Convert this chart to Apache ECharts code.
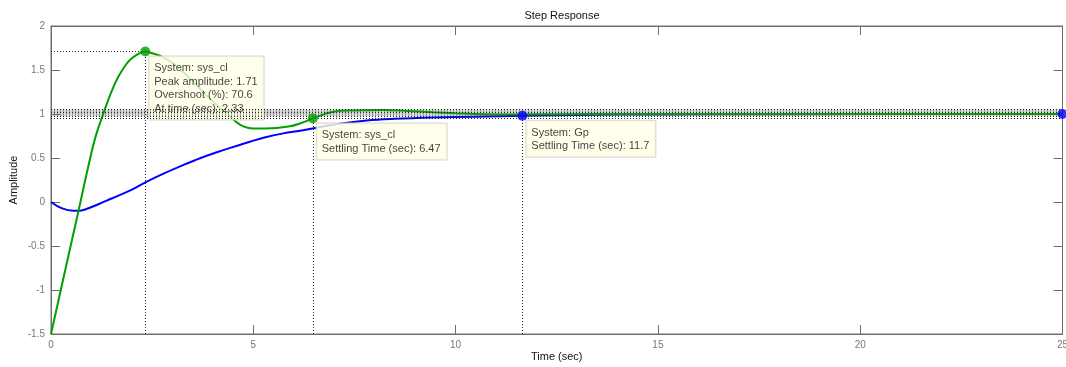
<!DOCTYPE html>
<html>
<head>
<meta charset="utf-8">
<script src="https://cdn.jsdelivr.net/npm/echarts@6/dist/echarts.min.js"></script>
<style>html,body{margin:0;padding:0;background:#fff}#c{width:1066px;height:367px}</style>
</head>
<body>
<div id="c"></div>
<script>
// sys_cl (green) step response
const sysClTime = [0, 0.3, 0.675, 0.92, 1.1, 1.29, 1.5, 1.66, 1.85, 1.99, 2.15, 2.33, 2.5, 2.7, 3.0, 3.4, 3.8, 4.1, 4.34, 4.67, 5.0, 5.3, 5.9, 6.2, 6.47, 6.98, 7.5, 8.2, 8.8, 9.45, 10.0, 10.7, 11.5, 12.5, 14, 25];
const sysClAmp  = [-1.5, -0.88, -0.11, 0.40, 0.74, 1.0, 1.26, 1.42, 1.56, 1.63, 1.68, 1.71, 1.69, 1.66, 1.58, 1.42, 1.23, 1.10, 1.01, 0.88, 0.835, 0.835, 0.86, 0.90, 0.95, 1.026, 1.04, 1.045, 1.035, 1.02, 1.008, 0.997, 0.995, 0.998, 1.0, 1.0];
// Gp (blue) step response
const gpTime = [0, 0.26, 0.55, 0.7, 0.84, 1.2, 1.5, 2.0, 2.32, 2.82, 3.27, 3.7, 4.1, 4.5, 4.92, 5.3, 5.74, 6.16, 6.53, 7.0, 7.8, 8.5, 9.44, 10.5, 11.65, 13, 15, 18, 25];
const gpAmp  = [0, -0.07, -0.10, -0.10, -0.085, -0.02, 0.04, 0.14, 0.22, 0.33, 0.42, 0.50, 0.565, 0.625, 0.685, 0.735, 0.78, 0.81, 0.84, 0.88, 0.925, 0.945, 0.96, 0.97, 0.98, 0.99, 0.995, 0.998, 1.0];
// data tips
const tipPoints = [
  {x: 2.33, y: 1.71, color: '#00a000', text: 'System: sys_cl\nPeak amplitude: 1.71\nOvershoot (%): 70.6\nAt time (sec): 2.33'},
  {x: 6.47, y: 0.95, color: '#00a000', text: 'System: sys_cl\nSettling Time (sec): 6.47'},
  {x: 11.65, y: 0.98, color: '#0000ff', text: 'System: Gp\nSettling Time (sec): 11.7'}
];
const endPoint = {x: 25, y: 1.0, color: '#0000ff'};
const settleLevels = [1.05, 1.02, 0.98, 0.95];
const xTicks = {min: 0, max: 25, interval: 5};
const yTicks = {min: -1.5, max: 2, interval: 0.5};

const zip = (a, b) => a.map((v, i) => [v, b[i]]);
const FONT = '"Liberation Sans", Arial, Helvetica, sans-serif';
const axisGray = '#6e6e6e';

const chart = echarts.init(document.getElementById('c'), null, {renderer: 'canvas'});
const baseX = {type: 'value', min: xTicks.min, max: xTicks.max, interval: xTicks.interval};
const baseY = {type: 'value', min: yTicks.min, max: yTicks.max, interval: yTicks.interval};

const dotted = {color: '#222', width: 1, type: [1, 2]};
const axLine = {show: true, onZero: false, lineStyle: {color: axisGray}};
const axTick = {show: true, inside: true, length: 9, lineStyle: {color: axisGray}};

chart.setOption({
  animation: false,
  title: {text: 'Step Response', left: 557, top: 5, textAlign: 'center',
    textStyle: {fontSize: 11, fontWeight: 'normal', color: '#111', fontFamily: FONT}},
  grid: {left: 51, right: 3.5, top: 26, bottom: 33, show: true, borderColor: axisGray, borderWidth: 1,
    containLabel: false, outerBoundsMode: 'none'},
  xAxis: [
    Object.assign({}, baseX, {position: 'bottom', name: 'Time (sec)', nameLocation: 'middle', nameGap: 17,
      nameMoveOverlap: false,
      nameTextStyle: {fontSize: 11, color: '#111', fontFamily: FONT},
      axisLine: axLine, axisTick: axTick,
      axisLabel: {margin: 6, fontSize: 10, color: '#777', fontFamily: FONT},
      splitLine: {show: false}}),
    Object.assign({}, baseX, {position: 'top',
      axisLine: axLine, axisTick: axTick,
      axisLabel: {show: false}, splitLine: {show: false}})
  ],
  yAxis: [
    Object.assign({}, baseY, {position: 'left', name: 'Amplitude', nameLocation: 'middle', nameGap: 32,
      nameMoveOverlap: false,
      nameTextStyle: {fontSize: 11, color: '#111', fontFamily: FONT},
      axisLine: axLine, axisTick: axTick,
      axisLabel: {margin: 6, fontSize: 10, color: '#777', fontFamily: FONT},
      splitLine: {show: false}}),
    Object.assign({}, baseY, {position: 'right',
      axisLine: axLine, axisTick: axTick,
      axisLabel: {show: false}, splitLine: {show: false}})
  ],
  series: [
    {name: 'Gp', type: 'line', z: 2, data: zip(gpTime, gpAmp), showSymbol: false, symbol: 'none',
      smooth: 0.4, lineStyle: {color: '#0000ff', width: 2}},
    {name: 'sys_cl', type: 'line', z: 2, data: zip(sysClTime, sysClAmp), showSymbol: false, symbol: 'none',
      smooth: 0.4, lineStyle: {color: '#00a000', width: 2}},
    {name: 'tips', type: 'scatter', z: 3, symbolSize: 10,
      data: tipPoints.map(p => ({value: [p.x, p.y], text: p.text})),
      itemStyle: {color: 'rgba(0,0,0,0)'},
      label: {show: true, position: [9, 10], formatter: p => p.data.text,
        fontSize: 11, lineHeight: 13.5, color: '#111', fontFamily: FONT,
        backgroundColor: '#ffffe6', borderColor: '#cfcfbf', borderWidth: 1,
        padding: [5, 6, 4, 5], align: 'left', verticalAlign: 'top'}},
    {name: 'band', type: 'line', z: 4, data: [], silent: true,
      markArea: {silent: true, itemStyle: {color: 'rgba(140,140,140,0.35)'},
        data: [[{yAxis: 0.977}, {yAxis: 1.05}]]},
      markLine: {silent: true, symbol: ['none', 'none'], label: {show: false},
        data: [
          {yAxis: 1.0135, lineStyle: {color: 'rgba(90,90,90,0.45)', width: 7, type: [1, 2]}}
        ].concat(settleLevels.map(v => ({yAxis: v, lineStyle: dotted})))
        .concat([
          [{coord: [0, tipPoints[0].y], lineStyle: dotted}, {coord: [tipPoints[0].x, tipPoints[0].y]}],
          [{coord: [tipPoints[0].x, yTicks.min], lineStyle: dotted}, {coord: [tipPoints[0].x, tipPoints[0].y]}],
          [{coord: [tipPoints[1].x, yTicks.min], lineStyle: dotted}, {coord: [tipPoints[1].x, tipPoints[1].y]}],
          [{coord: [tipPoints[2].x, yTicks.min], lineStyle: dotted}, {coord: [tipPoints[2].x, tipPoints[2].y]}]
        ])}},
    {name: 'dots', type: 'scatter', z: 5, symbolSize: 10, clip: true,
      data: tipPoints.concat([endPoint]).map(p => ({value: [p.x, p.y], itemStyle: {color: p.color}}))}
  ]
});
</script>
</body>
</html>
